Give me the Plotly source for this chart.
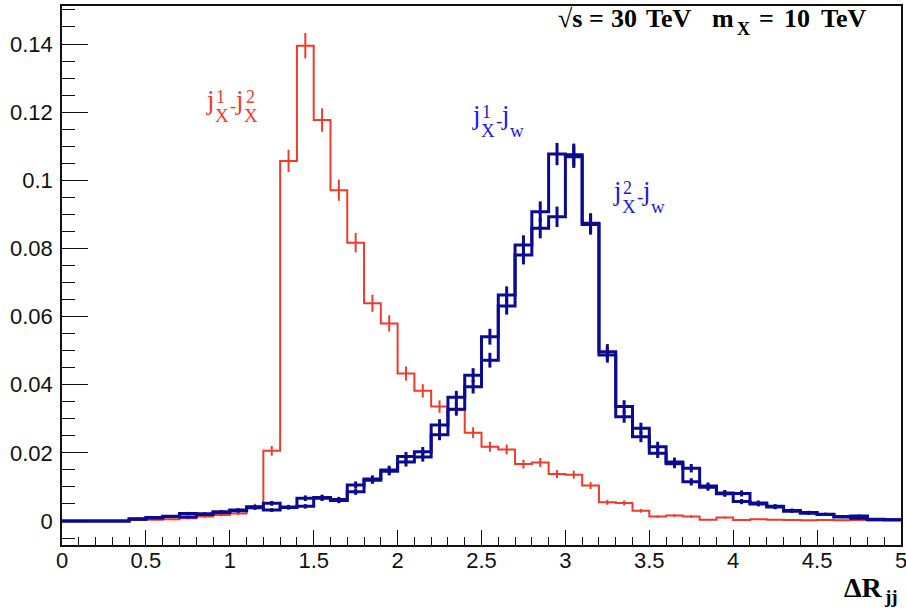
import numpy as np
import plotly.graph_objects as go

# ---------------- data (bin width 0.1, from 0 to 5) ----------------
BIN_EDGES = [round(0.1 * i, 1) for i in range(51)]

# j_X^1 - j_X^2  (red)
xx_vals = [0, 0, 0, 0,
           0.0003, 0.0004, 0.0005, 0.0008, 0.0013, 0.0018, 0.0022, 0.0044, 0.0206, 0.1057,
           0.1395, 0.1177, 0.0971, 0.0817, 0.0639, 0.0580, 0.0433, 0.0382, 0.0336, 0.0326,
           0.0259, 0.0218, 0.0210, 0.0167, 0.0172, 0.0138, 0.0136, 0.0104, 0.0055, 0.0053,
           0.0030, 0.0013, 0.0016, 0.0013, 0.0004, 0.0010, 0.0003, 0.0005, 0.0004, 0.0003,
           0.0002, 0.0003, 0.0002, 0.0003, 0.0002, 0.0002]

# j_X^1 - j_w  (blue)
x1w_vals = [0, 0, 0, 0,
            0.0007, 0.0010, 0.0014, 0.0022, 0.0021, 0.0027, 0.0032, 0.0041, 0.0052, 0.0041,
            0.0067, 0.0069, 0.0063, 0.0106, 0.0123, 0.0150, 0.0189, 0.0203, 0.0282, 0.0363,
            0.0428, 0.0541, 0.0663, 0.0810, 0.0908, 0.1077, 0.1069, 0.0874, 0.0497, 0.0336,
            0.0272, 0.0218, 0.0173, 0.0155, 0.0103, 0.0082, 0.0081, 0.0053, 0.0043, 0.0031,
            0.0025, 0.0020, 0.0013, 0.0015, 0.0005, 0.0004]

# j_X^2 - j_w  (blue)
x2w_vals = [0, 0, 0, 0,
            0.0005, 0.0009, 0.0013, 0.0012, 0.0019, 0.0025, 0.0030, 0.0039, 0.0032, 0.0040,
            0.0043, 0.0067, 0.0060, 0.0086, 0.0120, 0.0146, 0.0173, 0.0188, 0.0253, 0.0328,
            0.0394, 0.0472, 0.0631, 0.0781, 0.0859, 0.0893, 0.1075, 0.0870, 0.0487, 0.0306,
            0.0247, 0.0199, 0.0168, 0.0115, 0.0099, 0.0080, 0.0057, 0.0050, 0.0041, 0.0029,
            0.0023, 0.0019, 0.0012, 0.0008, 0.0004, 0.0004]

N_EVENTS = 10000  # normalisation used for the statistical error bars

Y_TICKS = [0, 0.02, 0.04, 0.06, 0.08, 0.1, 0.12, 0.14]
Y_TICK_TEXT = ["0", "0.02", "0.04", "0.06", "0.08", "0.1", "0.12", "0.14"]
X_TICKS = [0, 0.5, 1, 1.5, 2, 2.5, 3, 3.5, 4, 4.5, 5]
X_TICK_TEXT = ["0", "0.5", "1", "1.5", "2", "2.5", "3", "3.5", "4", "4.5", "5"]

RED = "#EF3B2C"
NAVY = "#0B0B92"
BLUE_TXT = "#1C1CD8"

W, H = 906, 612
ML, MR, MT, MB = 62, 5, 6, 67
PW, PH = W - ML - MR, H - MT - MB

fig = go.Figure()


def add_hist(vals, color, lw):
    centers = [round((BIN_EDGES[i] + BIN_EDGES[i + 1]) / 2, 3) for i in range(len(vals))]
    fig.add_trace(go.Scatter(x=BIN_EDGES, y=list(vals) + [vals[-1]], mode="lines",
                             line=dict(shape="hv", color=color, width=lw),
                             hoverinfo="skip", showlegend=False))
    idx = [i for i, v in enumerate(vals) if v > 0]
    errs = [float(np.sqrt(vals[i] / N_EVENTS)) for i in idx]
    fig.add_trace(go.Scatter(x=[centers[i] for i in idx], y=[vals[i] for i in idx],
                             mode="markers", marker=dict(size=0.1, color="rgba(0,0,0,0)"),
                             error_y=dict(type="data", array=errs, visible=True,
                                          thickness=lw, width=0, color=color),
                             hoverinfo="skip", showlegend=False))


add_hist(xx_vals, RED, 2)
add_hist(x1w_vals, NAVY, 3)
add_hist(x2w_vals, NAVY, 3)


def piece(text, left, baseline, size, color, family="Liberation Serif", weight="normal"):
    """Place a text piece by its left edge and baseline (pixels)."""
    bottom = baseline + 0.216 * size
    fig.add_annotation(xref="paper", yref="paper",
                       x=(left - ML) / PW, y=(MT + PH - bottom) / PH,
                       xanchor="left", yanchor="bottom", text=text, showarrow=False,
                       borderpad=0, font=dict(family=family, size=size, color=color, weight=weight))


def jet_label(color, L, top, first_sup, second_sub, second_sup=None):
    base = top + 21
    piece("j", L, base, 27, color)
    piece("X", L + 9, base + 13, 19, color)
    piece(first_sup, L + 10, base - 6, 18, color)
    piece("-", L + 24, base + 3, 19, color)
    piece("j", L + 29, base, 27, color)
    piece(second_sub, L + 38, base + 13, 19, color)
    if second_sup:
        piece(second_sup, L + 40, base - 6, 18, color)


jet_label(RED, 205, 89, "1", "X", "2")
jet_label(BLUE_TXT, 471, 104, "1", "w")
jet_label(BLUE_TXT, 612, 180, "2", "w")

# header text
HB = 28
HS = 26
piece("√s", 557, HB, HS, "black", weight="bold")
piece("=", 588, HB, HS, "black", weight="bold")
piece("30", 610, HB, HS, "black", weight="bold")
piece("TeV", 645, HB, HS, "black", weight="bold")
piece("m", 711, HB, HS, "black", weight="bold")
piece("X", 736, HB + 8, 18, "black", weight="bold")
piece("=", 758, HB, HS, "black", weight="bold")
piece("10", 783, HB, HS, "black", weight="bold")
piece("TeV", 820, HB, HS, "black", weight="bold")

# axis title
piece("ΔR", 843, 598, 28, "black", weight="bold")
piece("jj", 883, 604, 19, "black", weight="bold")

axis_common = dict(showline=True, linecolor="#111", linewidth=1.5, mirror=True,
                   showgrid=False, zeroline=False, ticks="inside", tickcolor="#111",
                   tickwidth=1, automargin=False, ticklabeloverflow="allow",
                   tickfont=dict(family="Liberation Sans", size=22, color="#111"))

fig.update_xaxes(range=[0, 5], tickvals=X_TICKS, ticktext=X_TICK_TEXT, ticklen=15,
                 ticklabelstandoff=-5,
                 minor=dict(dtick=0.1, tick0=0, ticklen=8, ticks="inside", tickcolor="#111", tickwidth=1),
                 **axis_common)
fig.update_yaxes(range=[-0.00704, 0.15116], tickvals=Y_TICKS, ticktext=Y_TICK_TEXT, ticklen=26,
                 ticklabelstandoff=3,
                 minor=dict(dtick=0.005, tick0=0, ticklen=13, ticks="inside", tickcolor="#111", tickwidth=1),
                 **axis_common)

fig.update_layout(width=W, height=H, margin=dict(l=ML, r=MR, t=MT, b=MB),
                  plot_bgcolor="white", paper_bgcolor="white", showlegend=False)

fig.write_html("out.html", config={"displayModeBar": False},
               post_script="document.body.style.margin='0';")
